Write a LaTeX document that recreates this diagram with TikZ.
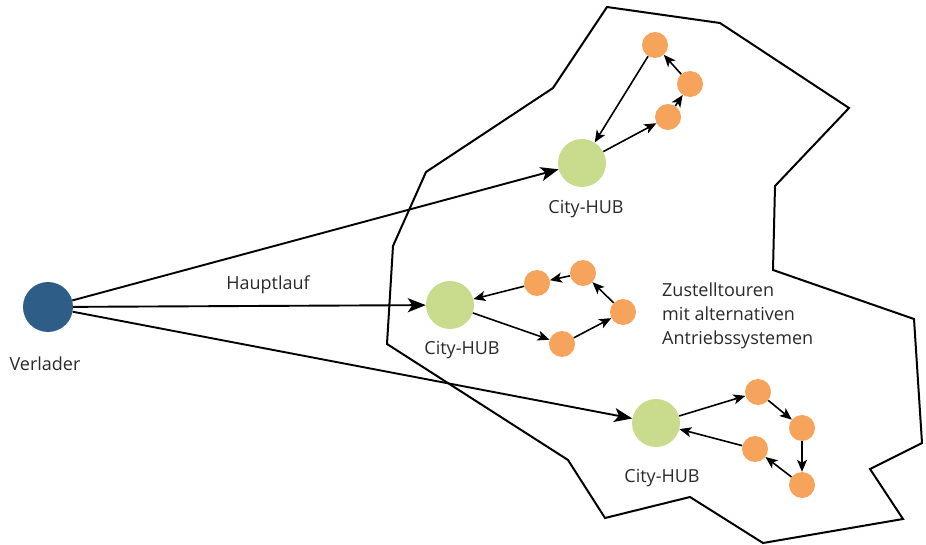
\documentclass[tikz,border=0pt]{standalone}
\usepackage{fontspec}
\setmainfont{Open Sans}
\usetikzlibrary{arrows.meta}
\definecolor{shipper}{HTML}{2E5D87}
\definecolor{hub}{HTML}{C9DC8E}
\definecolor{stop}{HTML}{F6A35B}
\definecolor{txt}{HTML}{2A2A2A}
\tikzset{
  shipperdot/.style={circle, fill=shipper, draw=none, minimum size=50pt, inner sep=0pt},
  hubdot/.style={circle, fill=hub, draw=none, minimum size=48pt, inner sep=0pt},
  stopdot/.style={circle, fill=stop, draw=none, minimum size=26pt, inner sep=0pt},
  lbl/.style={text=txt, font=\fontsize{18}{22}\selectfont, inner sep=0pt},
  mainarrow/.style={line width=1.9pt, -{Stealth[length=18pt, width=14pt, inset=4.5pt]}},
  tourarrow/.style={line width=1.6pt, -{Stealth[length=12pt, width=10pt, inset=3pt]}},
  area/.style={line width=2pt, line join=miter}
}
\begin{document}
\begin{tikzpicture}[x=1pt, y=-1pt]
\useasboundingbox (0,0) rectangle (926,545);

% city area outline
\draw[area] (607,7) -- (720,23) -- (849,108) -- (775,186) -- (773,270)
  -- (914,319) -- (922,443) -- (870,469) -- (903,519) -- (763,543)
  -- (690,497) -- (605,518) -- (568,460) -- (387,344) -- (393,246)
  -- (426,172) -- (553,88) -- cycle;

% shipper
\node[shipperdot] (v) at (48,307) {};
\node[lbl] (vl) at (45,364) {Verlader};

% hubs
\node[hubdot] (h1) at (582,163) {};
\node[lbl] (h1l) at (586,209) {City-HUB};
\node[hubdot] (h2) at (450,305) {};
\node[lbl] (h2l) at (462,350) {City-HUB};
\node[hubdot] (h3) at (656,423) {};
\node[lbl] (h3l) at (662,478) {City-HUB};

% main haul
\draw[mainarrow] (v) -- (h1);
\draw[mainarrow] (v) -- (h2);
\draw[mainarrow] (v) -- (h3);
\node[lbl] (hl) at (268,285) {Hauptlauf};

% delivery tour 1
\node[stopdot] (a1) at (655,45) {};
\node[stopdot] (a2) at (690,84) {};
\node[stopdot] (a3) at (668,117) {};
\draw[tourarrow] (h1) -- (a3);
\draw[tourarrow] (a3) -- (a2);
\draw[tourarrow] (a2) -- (a1);
\draw[tourarrow] (a1) -- (h1);

% delivery tour 2
\node[stopdot] (b1) at (562,344) {};
\node[stopdot] (b2) at (623,312) {};
\node[stopdot] (b3) at (583,273) {};
\node[stopdot] (b4) at (537,283) {};
\draw[tourarrow] (h2) -- (b1);
\draw[tourarrow] (b1) -- (b2);
\draw[tourarrow] (b2) -- (b3);
\draw[tourarrow] (b3) -- (b4);
\draw[tourarrow] (b4) -- (h2);

% delivery tour 3
\node[stopdot] (c1) at (758,392) {};
\node[stopdot] (c2) at (802,428) {};
\node[stopdot] (c3) at (802,485) {};
\node[stopdot] (c4) at (755,449) {};
\draw[tourarrow] (h3) -- (c1);
\draw[tourarrow] (c1) -- (c2);
\draw[tourarrow] (c2) -- (c3);
\draw[tourarrow] (c3) -- (c4);
\draw[tourarrow] (c4) -- (h3);

% caption
\node[lbl, anchor=west, align=left, font=\fontsize{18}{24}\selectfont] (z) at (662,316)
  {Zustelltouren\\mit alternativen\\Antriebssystemen};
\end{tikzpicture}
\end{document}
